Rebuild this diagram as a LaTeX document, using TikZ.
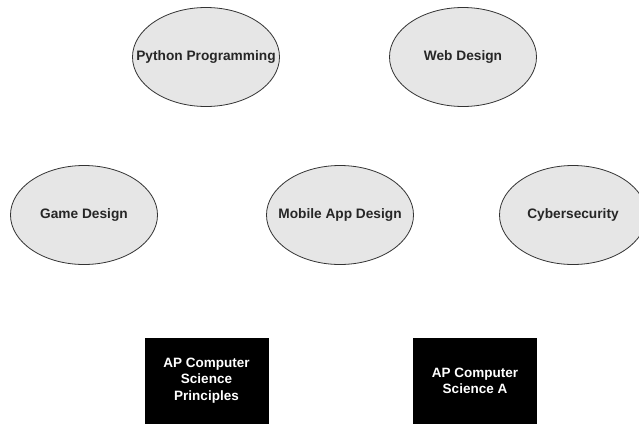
\documentclass[tikz,border=0pt]{standalone}
\usepackage{fontspec}
\setmainfont{Liberation Sans}
\usepackage{tikz}
\usetikzlibrary{shapes.geometric}

\definecolor{ovalfill}{HTML}{E6E6E6}
\definecolor{ovalline}{HTML}{333333}
\newcommand{\coursetext}[1]{\makebox[0pt]{#1}}

\begin{document}
\begin{tikzpicture}[x=1pt,y=-1pt,
    course/.style={ellipse,draw=ovalline,fill=ovalfill,line width=0.8pt,
      minimum width=147pt,minimum height=99pt,inner sep=0pt,
      text=black!85,font=\fontsize{13.7}{16}\selectfont\bfseries},
    apclass/.style={rectangle,fill=black,draw=black,
      minimum width=123pt,minimum height=85pt,align=center,
      text=white,font=\fontsize{13.5}{16.3}\selectfont\bfseries}]
  \clip (0,0) rectangle (639,423);
  \fill[white] (0,0) rectangle (639,423);

  \node[course] (python) at (206,57) {\coursetext{Python Programming}};
  \node[course] (web) at (463,57) {\coursetext{Web Design}};

  \node[course] (game) at (84,215) {\coursetext{Game Design}};
  \node[course] (mobile) at (340,215) {\coursetext{Mobile App Design}};
  \node[course] (cyber) at (573,215) {\coursetext{Cybersecurity}};

  \node[apclass] (csp) at (206.5,380.5) {AP Computer\\Science\\Principles};
  \node[apclass] (csa) at (475,380.5) {AP Computer\\Science A};
\end{tikzpicture}
\end{document}
